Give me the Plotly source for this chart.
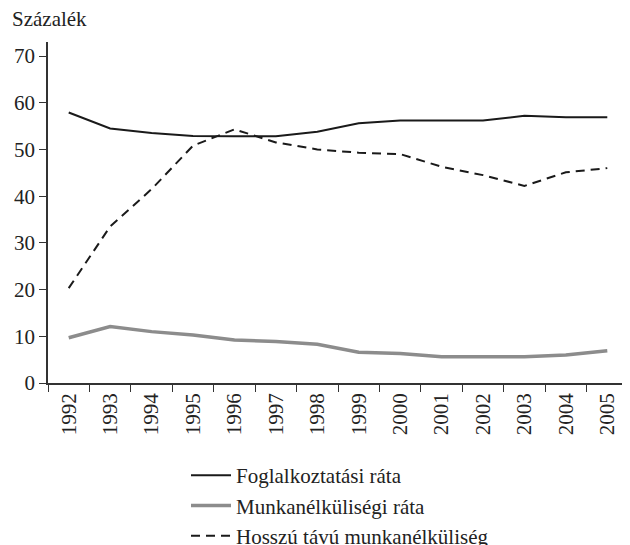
import plotly.graph_objects as go

years = ["1992", "1993", "1994", "1995", "1996", "1997", "1998", "1999",
         "2000", "2001", "2002", "2003", "2004", "2005"]
foglalkoztatasi = [57.9, 54.5, 53.5, 52.9, 52.8, 52.8, 53.8, 55.6, 56.2, 56.2, 56.2, 57.2, 56.9, 56.9]
munkanelkulisegi = [9.7, 12.1, 11.0, 10.3, 9.2, 8.9, 8.3, 6.6, 6.3, 5.6, 5.6, 5.6, 6.0, 6.9]
hosszu_tavu = [20.3, 33.5, 41.5, 50.8, 54.3, 51.5, 50.0, 49.3, 49.0, 46.3, 44.5, 42.2, 45.1, 46.0]

FONT = "Liberation Serif"
TXT = "#222222"

# page body has an 8px default margin, so the figure is sized to fit the window
W, H = 622, 537
L, R, T, B = 40, 2, 34, 162
PW, PH = W - L - R, H - T - B

fig = go.Figure()
fig.add_trace(go.Scatter(x=years, y=foglalkoztatasi, mode="lines",
                         name="Foglalkoztatási ráta",
                         line=dict(color="#1a1a1a", width=2)))
fig.add_trace(go.Scatter(x=years, y=munkanelkulisegi, mode="lines",
                         name="Munkanélküliségi ráta",
                         line=dict(color="#8c8c8c", width=3.5)))
fig.add_trace(go.Scatter(x=years, y=hosszu_tavu, mode="lines",
                         name="Hosszú távú munkanélküliség",
                         line=dict(color="#1a1a1a", width=2, dash="9px,6px")))

fig.update_layout(
    width=W, height=H,
    margin=dict(l=L, r=R, t=T, b=B, pad=0, autoexpand=False),
    paper_bgcolor="white", plot_bgcolor="white",
    font=dict(family=FONT, size=21, color=TXT),
    showlegend=True,
    legend=dict(
        orientation="v",
        x=(178 - L) / PW, xanchor="left",
        y=(T + PH - 447) / PH, yanchor="top",
        font=dict(family=FONT, size=21, color=TXT),
        bgcolor="rgba(0,0,0,0)",
        itemwidth=40,
        tracegroupgap=0,
    ),
    annotations=[dict(
        text="Százalék", xref="paper", yref="paper",
        x=(2 - L) / PW, y=(T + PH - 25) / PH, xanchor="left", yanchor="bottom",
        showarrow=False, font=dict(family=FONT, size=21, color=TXT),
    )],
)

fig.update_xaxes(
    type="category",
    tickson="boundaries",
    ticks="outside", ticklen=7, tickwidth=1, tickcolor="#333333",
    tickangle=-90,
    showline=True, linecolor="#333333", linewidth=1.5,
    showgrid=False, zeroline=False, automargin=False,
    range=[-0.5, 13.5],
    tickfont=dict(family=FONT, size=21, color=TXT),
)
fig.update_yaxes(
    range=[0, 73],
    tickvals=[0, 10, 20, 30, 40, 50, 60, 70],
    ticks="outside", ticklen=7, tickwidth=1, tickcolor="#333333",
    showline=True, linecolor="#333333", linewidth=1.5,
    showgrid=False, zeroline=False, automargin=False,
    tickfont=dict(family=FONT, size=21, color=TXT),
)

fig.write_html("out.html")
